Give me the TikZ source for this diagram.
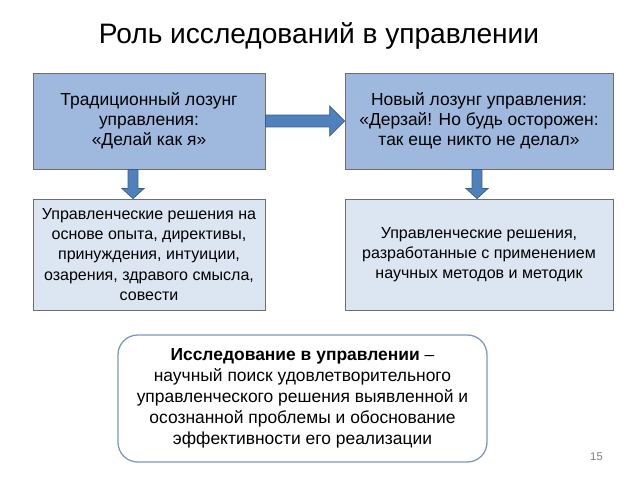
\documentclass[tikz,border=0pt]{standalone}
\usepackage{fontspec}
\setmainfont{Liberation Sans}
\usetikzlibrary{calc}
\definecolor{topfill}{RGB}{158,185,221}
\definecolor{lowfill}{RGB}{220,230,242}
\definecolor{boxline}{RGB}{110,110,110}
\definecolor{arrowfill}{RGB}{79,129,189}
\definecolor{arrowline}{RGB}{56,93,138}
\definecolor{roundline}{RGB}{125,150,195}

\begin{document}
\begin{tikzpicture}[x=0.025cm,y=-0.025cm,
  box/.style={draw=boxline,line width=0.6pt,align=center,inner sep=0pt,
    font=\fontsize{12.4}{14.3}\selectfont},
  lowbox/.style={box,fill=lowfill,font=\fontsize{11.4}{14.3}\selectfont},
  fatarrow/.style n args={3}{fill=arrowfill,draw=arrowline,line width=0.5pt,
    to path={($(\tikztostart)!#1!90:(\tikztotarget)$)
      -- ($(\tikztotarget)!#3!(\tikztostart)!#1!-90:(\tikztostart)$)
      -- ($(\tikztotarget)!#3!(\tikztostart)!#2!-90:(\tikztostart)$)
      -- (\tikztotarget)
      -- ($(\tikztotarget)!#3!(\tikztostart)!#2!90:(\tikztostart)$)
      -- ($(\tikztotarget)!#3!(\tikztostart)!#1!90:(\tikztostart)$)
      -- ($(\tikztostart)!#1!-90:(\tikztotarget)$) -- cycle}}]
\useasboundingbox[fill=white] (0,0) rectangle (640,480);

\node[anchor=base,font=\fontsize{20}{22}\selectfont] (title) at (319,43) {Роль исследований в управлении};

\node[box,fill=topfill,minimum width=232*0.025cm,minimum height=96*0.025cm] (old) at (149,121)
  {Традиционный лозунг\\управления:\\«Делай как я»};
\node[box,fill=topfill,minimum width=268*0.025cm,minimum height=96*0.025cm] (new) at (479,121)
  {Новый лозунг управления:\\«Дерзай! Но будь осторожен:\\так еще никто не делал»};
\node[lowbox,minimum width=232*0.025cm,minimum height=111*0.025cm] (oldres) at (149,254.5)
  {Управленческие решения на\\основе опыта, директивы,\\принуждения, интуиции,\\озарения, здравого смысла,\\совести};
\node[lowbox,minimum width=268*0.025cm,minimum height=111*0.025cm] (newres) at (479,254.5)
  {Управленческие решения,\\разработанные с применением\\научных методов и методик};

\node[draw=roundline,line width=0.9pt,rounded corners=14pt,align=center,inner sep=0pt,
  minimum width=369*0.025cm,minimum height=127*0.025cm,
  font=\fontsize{12.4}{14.9}\selectfont] (def) at (302.5,398.5)
  {\textbf{Исследование в управлении} –\\научный поиск удовлетворительного\\управленческого решения выявленной и\\осознанной проблемы и обоснование\\эффективности его реализации};

\node[text=gray,font=\fontsize{8}{9}\selectfont] (page) at (596.5,457) {15};

% arrows between the boxes
\coordinate (d1) at ($(old.south)+(-16,0)$);
\coordinate (d2) at ($(oldres.north)+(-16,0)$);
\coordinate (d3) at ($(new.south)+(-2,0)$);
\coordinate (d4) at ($(newres.north)+(-2,0)$);
\draw[fatarrow={4.25pt}{10.6pt}{10.6pt}] (old.east) to (new.west);
\draw[fatarrow={3.5pt}{7.8pt}{7.1pt}] (d1) to (d2);
\draw[fatarrow={3.5pt}{7.8pt}{7.1pt}] (d3) to (d4);
\end{tikzpicture}
\end{document}
